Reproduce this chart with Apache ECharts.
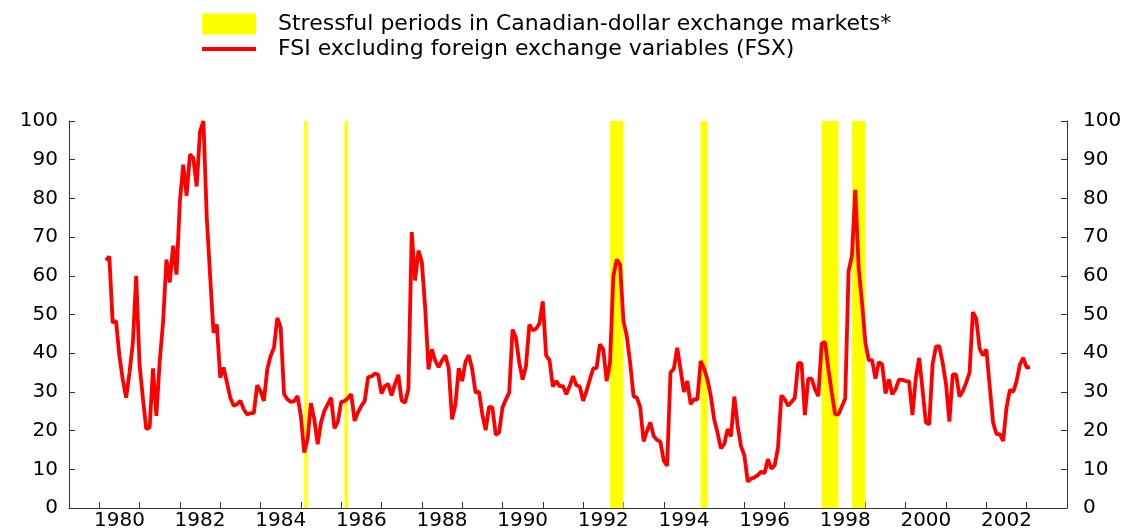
<!DOCTYPE html>
<html>
<head>
<meta charset="utf-8">
<script src="https://cdn.jsdelivr.net/npm/echarts@6/dist/echarts.min.js"></script>
<style>
  html, body { margin: 0; padding: 0; background: #fff; }
  #fsx { width: 1128px; height: 531px; }
</style>
</head>
<body>
<div id="fsx"></div>
<script>
// monthly FSX values, first value is March 1980
const fsxStart = '1980-03'
const fsx = [
  64.0, 65.0, 47.9, 48.3, 39.3, 33.2, 28.5, 35.0, 42.5, 60.0, // 1980
  37.0, 28.3, 20.4, 20.8, 36.1, 23.8, 38.0, 48.0, 64.2, 58.3, 67.8, 60.3, // 1981
  79.2, 88.7, 80.7, 91.4, 90.4, 83.1, 97.3, 100, 75.0, 60.0, 45.3, 47.4, // 1982
  33.7, 36.3, 32.4, 28.5, 26.4, 26.8, 27.7, 25.5, 24.2, 24.5, 24.5, 31.7, // 1983
  30.2, 27.7, 35.8, 39.3, 41.4, 49.1, 46.6, 29.4, 28.1, 27.4, 27.6, 28.9, // 1984
  23.8, 14.3, 17.8, 27.1, 22.9, 16.5, 22.1, 25.1, 26.8, 28.5, 20.6, 22.3, // 1985
  27.4, 27.6, 28.4, 29.4, 22.5, 24.7, 26.4, 27.6, 33.8, 34.0, 34.7, 34.5, // 1986
  29.6, 31.5, 32.0, 29.1, 32.0, 34.4, 27.8, 27.2, 30.7, 71.3, 58.8, 66.5, // 1987
  63.6, 51.7, 35.8, 41.0, 38.0, 36.4, 38.1, 39.5, 36.1, 22.9, 26.8, 36.1, // 1988
  32.8, 37.8, 39.5, 35.8, 29.8, 30.1, 24.2, 20.1, 26.1, 26.0, 18.9, 19.5, // 1989
  26.0, 28.0, 29.8, 46.1, 44.0, 37.5, 33.2, 36.7, 47.4, 45.9, 46.3, 47.7, // 1990
  53.4, 39.4, 38.2, 31.4, 32.8, 31.5, 31.5, 29.4, 31.5, 34.1, 31.7, 31.4, // 1991
  27.7, 30.2, 33.2, 36.0, 36.2, 42.3, 41.0, 32.8, 37.5, 59.9, 64.2, 62.9, // 1992
  48.3, 44.4, 37.5, 28.9, 28.5, 26.0, 17.2, 19.9, 22.1, 18.6, 17.6, 17.1, // 1993
  12.2, 10.9, 35.0, 36.0, 41.4, 35.8, 30.0, 32.8, 26.8, 28.1, 28.0, 38.0, // 1994
  36.0, 33.2, 28.9, 22.9, 19.5, 15.4, 16.5, 20.4, 18.5, 28.8, 21.2, 15.9, // 1995
  13.5, 6.8, 7.6, 7.9, 8.5, 9.4, 9.0, 12.6, 10.2, 11.0, 15.6, 29.1, // 1996
  28.1, 26.4, 27.4, 28.5, 37.4, 37.4, 24.0, 33.4, 33.4, 30.7, 28.9, 42.5, // 1997
  42.9, 35.8, 29.8, 24.2, 24.2, 26.2, 28.3, 61.2, 65.2, 82.2, 62.0, 53.0, // 1998
  42.7, 38.2, 38.2, 33.4, 37.7, 37.1, 29.6, 33.2, 29.4, 30.7, 33.2, 33.1, // 1999
  32.8, 32.7, 24.0, 33.5, 38.8, 30.7, 22.1, 21.6, 37.1, 41.7, 41.8, 37.5, // 2000
  32.0, 22.3, 34.5, 34.5, 28.8, 30.2, 32.4, 35.0, 50.6, 48.9, 41.2, 39.4, // 2001
  41.0, 31.5, 22.1, 19.1, 19.1, 17.3, 25.9, 30.5, 30.0, 32.8, 37.1, 38.8, // 2002
  36.3, 36.4 // 2003
]

// stressful periods in Canadian-dollar exchange markets (start month, end month)
const stressBands = [
  ['1985-02', '1985-03'],
  ['1986-02', '1986-03'],
  ['1992-09', '1993-01'],
  ['1994-12', '1995-02'],
  ['1997-12', '1998-05'],
  ['1998-09', '1999-01']
]

const yTicks = [0, 10, 20, 30, 40, 50, 60, 70, 80, 90, 100]

const bandName = 'Stressful periods in Canadian-dollar exchange markets*'
const lineName = 'FSI excluding foreign exchange variables (FSX)'

// monthly category axis, Apr 1979 .. Jan 2004
const months = []
for (let y = 1979; y <= 2004; y++) {
  for (let m = 1; m <= 12; m++) {
    const c = y + '-' + (m < 10 ? '0' + m : '' + m)
    if (c >= '1979-04' && c <= '2004-01') months.push(c)
  }
}
const offset = months.indexOf(fsxStart)
const lineData = months.map((c, i) => {
  const v = fsx[i - offset]
  return v === undefined ? null : v
})

const font = 'DejaVu Sans'
const axisColor = '#333'

function yAxisOpt(pos) {
  return {
    type: 'value',
    position: pos,
    min: yTicks[0],
    max: yTicks[yTicks.length - 1],
    interval: yTicks[1] - yTicks[0],
    axisLine: { show: true, lineStyle: { color: axisColor, width: 1 } },
    axisTick: { show: true, inside: true, length: 6, lineStyle: { color: axisColor } },
    axisLabel: {
      color: '#000', fontFamily: font, fontSize: 20,
      margin: pos === 'left' ? 11 : 16
    },
    splitLine: { show: false }
  }
}

const chart = echarts.init(document.getElementById('fsx'))
chart.setOption({
  backgroundColor: '#fff',
  animation: false,
  grid: { left: 69, right: 61, top: 121, bottom: 22, containLabel: false },
  legend: [{
    left: 197,
    top: 8,
    orient: 'vertical',
    selectedMode: false,
    itemWidth: 54,
    itemHeight: 21,
    icon: 'rect',
    data: [bandName],
    textStyle: { color: '#000', fontFamily: font, fontSize: 22, padding: [0, 0, 0, 17] }
  }, {
    left: 197,
    top: 33,
    orient: 'vertical',
    selectedMode: false,
    itemWidth: 54,
    itemHeight: 4,
    icon: 'rect',
    data: [lineName],
    textStyle: { color: '#000', fontFamily: font, fontSize: 22, padding: [0, 0, 0, 17] }
  }],
  xAxis: {
    type: 'category',
    data: months,
    boundaryGap: false,
    axisLine: { show: true, lineStyle: { color: axisColor, width: 1 } },
    axisTick: {
      show: true,
      inside: true,
      length: 6,
      lineStyle: { color: axisColor },
      interval: (i, v) => v.slice(5) === '01'
    },
    axisLabel: {
      color: '#000',
      fontFamily: font,
      fontSize: 20,
      margin: 3,
      interval: (i, v) => v.slice(5) === '07' && (+v.slice(0, 4)) % 2 === 0,
      formatter: v => v.slice(0, 4)
    },
    splitLine: { show: false }
  },
  yAxis: [yAxisOpt('left'), yAxisOpt('right')],
  series: [{
    name: bandName,
    type: 'line',
    data: [],
    z: 1,
    itemStyle: { color: '#ffff00' },
    lineStyle: { color: '#ffff00' },
    markArea: {
      silent: true,
      itemStyle: { color: '#ffff00', opacity: 1 },
      data: stressBands.map(b => [{ xAxis: b[0] }, { xAxis: b[1] }])
    }
  }, {
    name: lineName,
    type: 'line',
    data: lineData,
    z: 3,
    showSymbol: false,
    symbol: 'none',
    itemStyle: { color: '#ff0000' },
    lineStyle: { color: '#ff0000', width: 3.8 }
  }]
})
</script>
</body>
</html>
